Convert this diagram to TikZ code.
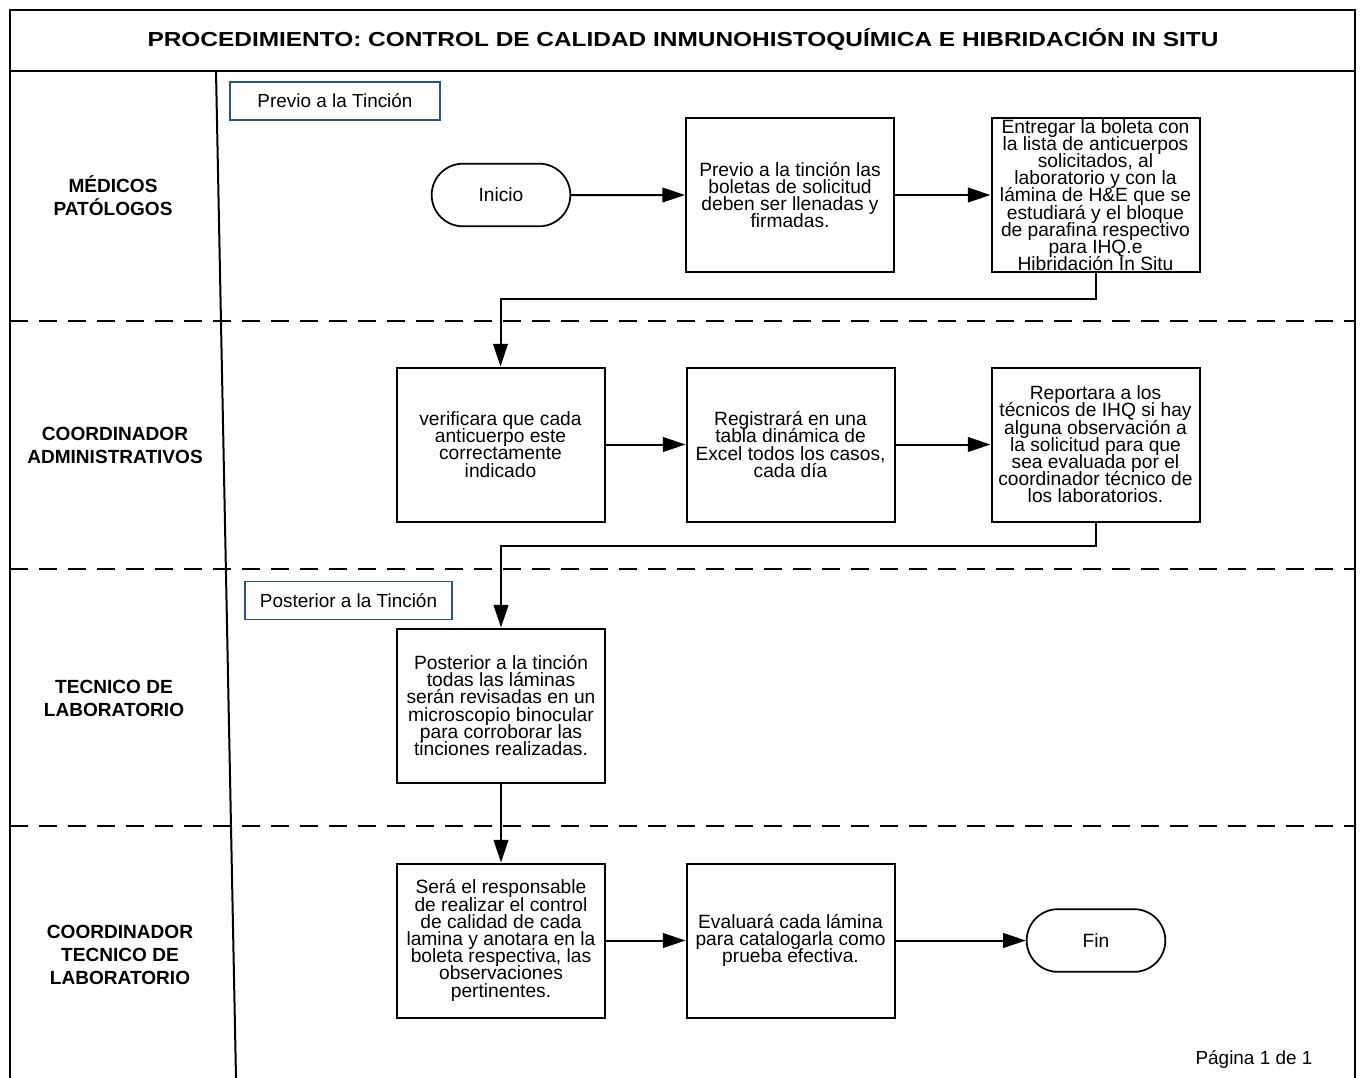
\documentclass[tikz,border=0pt]{standalone}
\usepackage{graphicx}
\usepackage{fontspec}
\setmainfont{Liberation Sans}
\usetikzlibrary{arrows.meta,shapes.misc}
\definecolor{phaseblue}{RGB}{44,82,140}
\newcommand{\tightlines}{\lineskiplimit=-\maxdimen\lineskip=0pt}
\tikzset{
  frame/.style={line width=1.5pt},
  lanesep/.style={line width=1.3pt, dash pattern=on 13.5pt off 8.25pt},
  lanelabel/.style={align=center, font=\fontsize{14.3}{17.3}\selectfont\bfseries\tightlines},
  procbox/.style={draw, line width=1.5pt, minimum width=156pt, minimum height=115.5pt,
    inner sep=0pt, align=center, font=\fontsize{14.4}{12.9}\selectfont\tightlines},
  terminal/.style={draw, line width=1.3pt, rounded rectangle, minimum width=104pt,
    minimum height=47pt, inner sep=0pt, font=\fontsize{14.4}{12.9}\selectfont},
  phasebox/.style={draw=phaseblue, line width=1.1pt, minimum height=28.5pt,
    inner sep=0pt, font=\fontsize{14.2}{16}\selectfont},
  flow/.style={line width=1.5pt, -{Triangle[length=17pt,width=11pt]}},
}
\begin{document}
\begin{tikzpicture}[x=0.75pt,y=-0.75pt]
\useasboundingbox (0,0) rectangle (1364,1078);

% outer frame, title band and lane column divider
\draw[frame] (10,1078) -- (10,10) -- (1355,10) -- (1355,1078);
\draw[frame] (10,71) -- (1355,71);
\draw[frame] (216,71) -- (236,1078);
\node[font=\fontsize{15.2}{18}\selectfont\bfseries] (title) at (683,40)
  {\scalebox{1.205}[1]{PROCEDIMIENTO: CONTROL DE CALIDAD INMUNOHISTOQUÍMICA E HIBRIDACIÓN IN SITU}};

% lane separators
\draw[lanesep] (10,321) -- (1355,321);
\draw[lanesep] (10,569) -- (1355,569);
\draw[lanesep] (10,826) -- (1355,826);

% lane labels
\node[lanelabel] (l1) at (113,196) {MÉDICOS\\PATÓLOGOS};
\node[lanelabel] (l2) at (115,445) {COORDINADOR\\ADMINISTRATIVOS};
\node[lanelabel] (l3) at (114,698) {TECNICO DE\\LABORATORIO};
\node[lanelabel] (l4) at (120,955) {COORDINADOR\\TECNICO DE\\LABORATORIO};

% phase tags
\node[phasebox, minimum width=157.5pt] (p1) at (335,101) {Previo a la Tinción};
\node[phasebox, minimum width=155pt] (p2) at (348.5,600.5) {Posterior a la Tinción};

% steps
\node[terminal] (inicio) at (501,195) {Inicio};
\node[procbox] (b1) at (790,195) {Previo a la tinción las\\boletas de solicitud\\deben ser llenadas y\\firmadas.};
\node[procbox] (b2) at (1095.5,195) {Entregar la boleta con\\la lista de anticuerpos\\solicitados, al\\laboratorio y con la\\lámina de H\&E que se\\estudiará y el bloque\\de parafina respectivo\\para IHQ.e\\Hibridación In Situ};
\node[procbox] (b3) at (500.5,444.5) {verificara que cada\\anticuerpo este\\correctamente\\indicado};
\node[procbox] (b4) at (790.5,444.5) {Registrará en una\\tabla dinámica de\\Excel todos los casos,\\cada día};
\node[procbox] (b5) at (1095.5,444.5) {Reportara a los\\técnicos de IHQ si hay\\alguna observación a\\la solicitud para que\\sea evaluada por el\\coordinador técnico de\\los laboratorios.};
\node[procbox] (b6) at (501,705.5) {Posterior a la tinción\\todas las láminas\\serán revisadas en un\\microscopio binocular\\para corroborar las\\tinciones realizadas.};
\node[procbox] (b7) at (501,940.5) {Será el responsable\\de realizar el control\\de calidad de cada\\lamina y anotara en la\\boleta respectiva, las\\observaciones\\pertinentes.};
\node[procbox] (b8) at (790.5,940.5) {Evaluará cada lámina\\para catalogarla como\\prueba efectiva.};
\node[terminal] (fin) at (1096,940.5) {Fin};

% flow
\draw[flow] (inicio) -- (b1);
\draw[flow] (b1) -- (b2);
\draw[flow] (b2.south) -- ++(0,26) -| (b3.north);
\draw[flow] (b3) -- (b4);
\draw[flow] (b4) -- (b5);
\draw[flow] (b5.south) -- ++(0,23) -| (b6.north);
\draw[flow] (b6) -- (b7);
\draw[flow] (b7) -- (b8);
\draw[flow] (b8) -- (fin);

\node[font=\fontsize{14.2}{16}\selectfont] (page) at (1254,1059) {Página 1 de 1};
\end{tikzpicture}
\end{document}
